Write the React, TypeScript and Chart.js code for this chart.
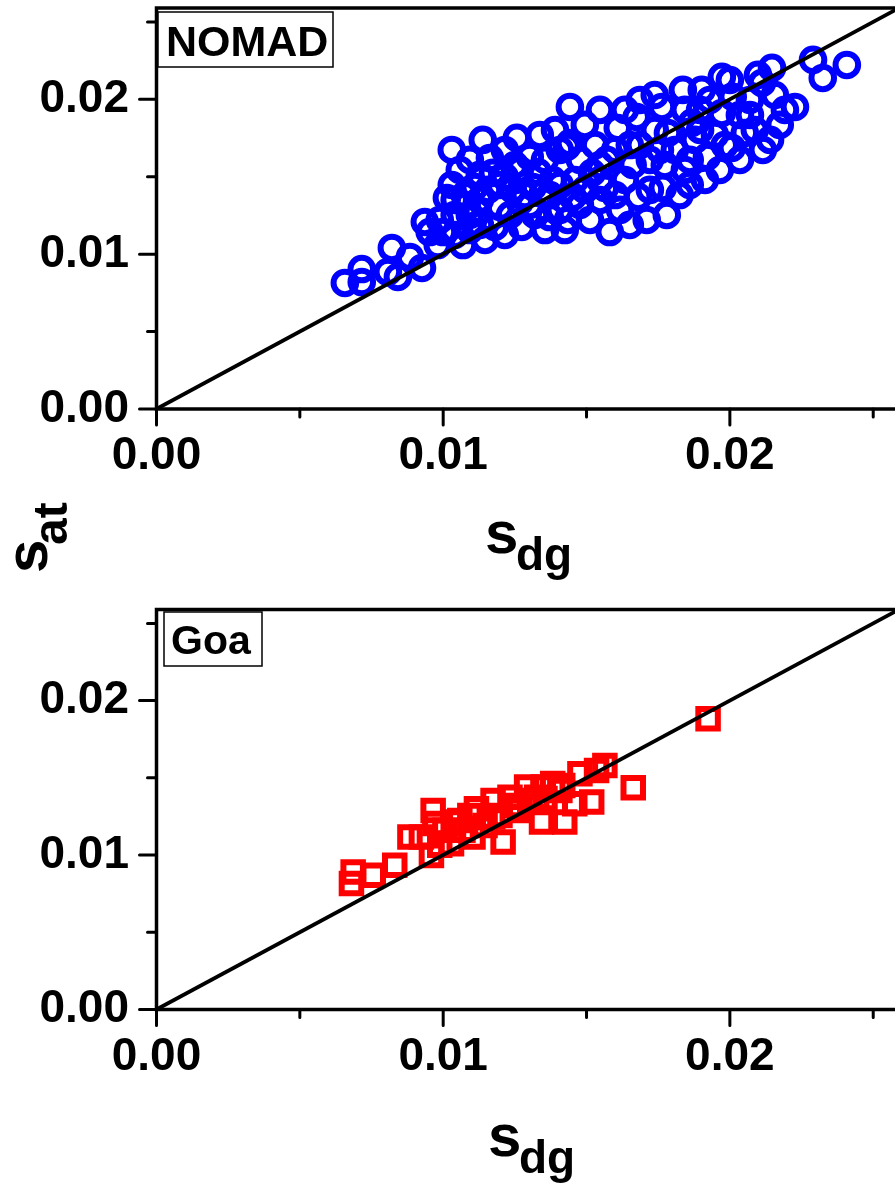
import React, { useEffect, useRef } from 'react';
import { Chart, registerables } from 'chart.js';

Chart.register(...registerables);

const FONT = "'Liberation Sans', Arial, Helvetica, sans-serif";

// ---------- data ----------
const nomadSdg = [
  0.00657, 0.00716, 0.00716, 0.00821, 0.00807, 0.00842, 0.00884, 0.00926, 0.00936, 0.00953,
  0.00999, 0.00981, 0.0103, 0.0103, 0.01013, 0.01058, 0.01069, 0.01082, 0.01121, 0.0111,
  0.01138, 0.01163, 0.01173, 0.01156, 0.01198, 0.0118, 0.01215, 0.01257, 0.01243, 0.01274,
  0.01267, 0.01302, 0.0133, 0.01337, 0.01348, 0.01313, 0.01372, 0.01431, 0.01442, 0.01435,
  0.01382, 0.01452, 0.01442, 0.01519, 0.01564, 0.01581, 0.01571, 0.01609, 0.01661, 0.01675,
  0.01686, 0.0168, 0.0171, 0.0178, 0.01766, 0.01763, 0.01784, 0.01843, 0.01867, 0.01836,
  0.01902, 0.0192, 0.01972, 0.01972, 0.02007, 0.0201, 0.02052, 0.02115, 0.02147, 0.02112,
  0.02174, 0.02227, 0.0229, 0.02324, 0.02408, 0.02098, 0.0104, 0.01093, 0.01146, 0.01233,
  0.01285, 0.0125, 0.01355, 0.01407, 0.0139, 0.01494, 0.0153, 0.01477, 0.01512, 0.01547,
  0.01617, 0.01634, 0.016, 0.01721, 0.01738, 0.01808, 0.01825, 0.01878, 0.01896, 0.01948,
  0.01965, 0.02035, 0.0207, 0.02087, 0.02157, 0.02192, 0.0214, 0.01738, 0.01634, 0.01547,
  0.01093, 0.01128, 0.01075, 0.01215, 0.0132, 0.01424, 0.01355, 0.01128, 0.00988, 0.0104,
  0.01651, 0.0186, 0.01913, 0.02035, 0.01547, 0.01477, 0.01407, 0.0146, 0.01721, 0.01773,
  0.0193, 0.01843, 0.02, 0.01686, 0.0104, 0.01093, 0.01198, 0.01267, 0.01302, 0.01372,
  0.01407, 0.01494, 0.01547, 0.016, 0.01651, 0.01756, 0.01896, 0.01982, 0.0207, 0.0186,
  0.01128, 0.01215,
];
const nomadSat = [
  0.00814, 0.0082, 0.00904, 0.0104, 0.00885, 0.00853, 0.00982, 0.00911, 0.01208, 0.01143,
  0.01143, 0.01059, 0.01673, 0.01447, 0.01363, 0.01544, 0.01059, 0.01318, 0.01273, 0.01434,
  0.01738, 0.01621, 0.01525, 0.01415, 0.01305, 0.01176, 0.01499, 0.01751, 0.01415, 0.01176,
  0.01337, 0.01628, 0.01531, 0.0177, 0.01395, 0.01434, 0.0124, 0.01693, 0.01951, 0.01221,
  0.01479, 0.0137, 0.01718, 0.01525, 0.01428, 0.01143, 0.01609, 0.01815, 0.01576, 0.01886,
  0.01705, 0.0137, 0.01221, 0.01253, 0.01428, 0.01951, 0.01783, 0.01544, 0.01848, 0.02061,
  0.02061, 0.01628, 0.01912, 0.02145, 0.01686, 0.02016, 0.01783, 0.01673, 0.02203, 0.02106,
  0.01835, 0.01951, 0.02255, 0.02138, 0.02222, 0.02158, 0.01253, 0.01156, 0.01092, 0.01253,
  0.01382, 0.01576, 0.01609, 0.01447, 0.01802, 0.01835, 0.01705, 0.01318, 0.01221, 0.0135,
  0.01286, 0.01479, 0.01673, 0.01609, 0.01802, 0.01673, 0.01382, 0.01738, 0.01932, 0.0177,
  0.01544, 0.01899, 0.01996, 0.01802, 0.02028, 0.01932, 0.01738, 0.02028, 0.01932, 0.01932,
  0.01609, 0.01512, 0.01382, 0.01673, 0.01253, 0.01156, 0.01156, 0.01189, 0.01221, 0.01124,
  0.01189, 0.01609, 0.01479, 0.01609, 0.01576, 0.01609, 0.01673, 0.01479, 0.01415, 0.01576,
  0.01996, 0.01932, 0.02125, 0.01996, 0.0135, 0.01253, 0.01447, 0.01544, 0.01318, 0.01382,
  0.01286, 0.01415, 0.01479, 0.01382, 0.01705, 0.01673, 0.01802, 0.01705, 0.01899, 0.01447,
  0.0135, 0.01124,
];
const goaSdg = [
  0.01924, 0.01663, 0.01564, 0.01535, 0.01477, 0.01518, 0.01459, 0.01424, 0.01417, 0.01382,
  0.01343, 0.01348, 0.01291, 0.01209, 0.01174, 0.01233, 0.01116, 0.01104, 0.01035, 0.01029,
  0.00965, 0.00971, 0.00959, 0.00924, 0.00884, 0.00831, 0.00756, 0.00686, 0.0068, 0.01069,
  0.01173, 0.01267, 0.01326, 0.01146, 0.01198, 0.0125, 0.01302, 0.01355, 0.01058, 0.01006,
  0.01093, 0.01407, 0.00988,
];
const goaSat = [
  0.01882, 0.01436, 0.0158, 0.01548, 0.01526, 0.01343, 0.01332, 0.01214, 0.01451, 0.01464,
  0.01214, 0.0144, 0.0144, 0.01084, 0.01354, 0.01375, 0.013, 0.01117, 0.01214, 0.01074,
  0.01289, 0.01205, 0.00998, 0.01117, 0.01117, 0.00934, 0.00869, 0.0089, 0.00816, 0.0116,
  0.01246, 0.01289, 0.01375, 0.01192, 0.01256, 0.01321, 0.01354, 0.01366, 0.01224, 0.0116,
  0.01256, 0.01418, 0.01063,
];
const diagonalX = [0, 0.026];
const diagonalY = [0, 0.026];
const majorTickValues = [0, 0.01, 0.02];
const X_MAX = 0.02576;
const Y_MAX = 0.0259;

type PanelCfg = {
  name: string;
  xs: number[];
  ys: number[];
  color: string;
  pointStyle: 'circle' | 'rect';
  radius: number;
  top: number;
  height: number;
  padTop: number;
  areaH: number;
  box: { x: number; y: number; w: number; h: number; tx: number; ty: number; size: number };
  titleX: number;
  titleDy: number;
  yTitle: boolean;
};

const panels: PanelCfg[] = [
  {
    name: 'NOMAD', xs: nomadSdg, ys: nomadSat, color: '#0000ff', pointStyle: 'circle', radius: 11.3,
    top: 0, height: 600, padTop: 8, areaH: 401,
    box: { x: 158, y: 12, w: 175, h: 55, tx: 166, ty: 56, size: 43 },
    titleX: 485, titleDy: 144, yTitle: true,
  },
  {
    name: 'Goa', xs: goaSdg, ys: goaSat, color: '#ff0000', pointStyle: 'rect', radius: 13.8,
    top: 600, height: 584, padTop: 9.5, areaH: 400,
    box: { x: 164, y: 12, w: 98, h: 54, tx: 171, ty: 54, size: 41 },
    titleX: 488, titleDy: 146.5, yTitle: false,
  },
];

const isMajor = (v: number) => majorTickValues.some((m) => Math.abs(m - v) < 1e-7);
const fmt = (v: number) => {
  const m = majorTickValues.find((t) => Math.abs(t - v) < 1e-7);
  return m === undefined ? '' : m.toFixed(2);
};

function drawSub(ctx: CanvasRenderingContext2D, x: number, y: number, main: string, sub: string, subDx: number) {
  ctx.font = `bold 60px ${FONT}`;
  ctx.textAlign = 'left';
  ctx.textBaseline = 'alphabetic';
  ctx.fillText(main, x, y);
  ctx.font = `bold 46px ${FONT}`;
  ctx.fillText(sub, x + subDx, y + 17);
}

function Panel({ cfg }: { cfg: PanelCfg }) {
  const ref = useRef<HTMLCanvasElement>(null);
  useEffect(() => {
    const canvas = ref.current!;
    const framePlugin = {
      id: 'frame',
      afterDraw(chart: any) {
        const { ctx, chartArea: a, scales } = chart;
        const xs = scales.x;
        const ys = scales.y;
        ctx.save();
        ctx.strokeStyle = '#000';
        ctx.lineWidth = 3.5;
        ctx.lineCap = 'butt';
        ctx.beginPath();
        ctx.moveTo(a.left, a.top);
        ctx.lineTo(a.left, a.bottom);
        ctx.moveTo(a.left - 1.75, a.bottom);
        ctx.lineTo(a.right + 2, a.bottom);
        ctx.moveTo(a.left - 1.75, a.top);
        ctx.lineTo(a.right + 2, a.top);
        ctx.stroke();
        ctx.lineWidth = 3;
        ctx.lineCap = 'round';
        ctx.beginPath();
        for (const t of ys.ticks) {
          const py = ys.getPixelForValue(t.value);
          ctx.moveTo(a.left, py);
          ctx.lineTo(a.left - (isMajor(t.value) ? 17 : 9), py);
        }
        for (const t of xs.ticks) {
          const px = xs.getPixelForValue(t.value);
          if (px > a.right) continue;
          ctx.moveTo(px, a.bottom);
          ctx.lineTo(px, a.bottom + (isMajor(t.value) ? 16 : 8));
        }
        ctx.stroke();
        // legend box
        const b = cfg.box;
        ctx.lineWidth = 1.5;
        ctx.lineCap = 'butt';
        ctx.fillStyle = '#fff';
        ctx.fillRect(b.x, b.y, b.w, b.h);
        ctx.strokeRect(b.x, b.y, b.w, b.h);
        ctx.fillStyle = '#000';
        ctx.font = `bold ${b.size}px ${FONT}`;
        ctx.textAlign = 'left';
        ctx.textBaseline = 'alphabetic';
        ctx.fillText(cfg.name, b.tx, b.ty);
        // x title
        drawSub(ctx, cfg.titleX, a.bottom + cfg.titleDy, 's', 'dg', 31);
        // y title
        if (cfg.yTitle) {
          ctx.save();
          ctx.translate(47, 572);
          ctx.rotate(-Math.PI / 2);
          ctx.font = `bold 60px ${FONT}`;
          ctx.fillText('s', -1, 0);
          ctx.font = `bold 48px ${FONT}`;
          ctx.fillText('at', 27, 20);
          ctx.restore();
        }
        ctx.restore();
      },
    };

    const tickFont = { family: FONT, size: 46, weight: 'bold' as const };
    const chart = new Chart(canvas, {
      type: 'scatter',
      data: {
        datasets: [
          {
            type: 'line',
            data: diagonalX.map((v, i) => ({ x: v, y: diagonalY[i] })),
            borderColor: '#000',
            borderWidth: 3.8,
            pointRadius: 0,
            fill: false,
            tension: 0,
            order: 0,
          } as any,
          {
            type: 'scatter',
            data: cfg.xs.map((v, i) => ({ x: v, y: cfg.ys[i] })),
            pointStyle: cfg.pointStyle,
            pointRadius: cfg.radius,
            pointBorderWidth: 6,
            pointBorderColor: cfg.color,
            borderColor: cfg.color,
            pointBackgroundColor: 'rgba(0,0,0,0)',
            backgroundColor: 'rgba(0,0,0,0)',
            order: 1,
          } as any,
        ],
      },
      options: {
        animation: false,
        responsive: false,
        maintainAspectRatio: false,
        events: [],
        layout: { autoPadding: false, padding: { top: cfg.padTop, left: 0, right: 0, bottom: 0 } },
        plugins: { legend: { display: false }, tooltip: { enabled: false }, title: { display: false } },
        scales: {
          x: {
            type: 'linear',
            position: 'bottom',
            min: 0,
            max: X_MAX,
            grid: { display: false, drawTicks: false },
            border: { display: false },
            ticks: {
              stepSize: 0.005,
              includeBounds: false,
              autoSkip: false,
              maxRotation: 0,
              padding: 20,
              color: '#000',
              font: tickFont,
              callback: (v: any) => fmt(Number(v)),
            },
            afterFit: (s: any) => {
              s.height = cfg.height - cfg.padTop - cfg.areaH;
              s.paddingLeft = 0;
              s.paddingRight = 0;
            },
          },
          y: {
            type: 'linear',
            position: 'left',
            min: 0,
            max: Y_MAX,
            grid: { display: false, drawTicks: false },
            border: { display: false },
            ticks: {
              stepSize: 0.005,
              includeBounds: false,
              autoSkip: false,
              padding: 27.5,
              color: '#000',
              font: tickFont,
              callback: (v: any) => fmt(Number(v)),
            },
            afterFit: (s: any) => {
              s.width = 156.5;
              s.paddingTop = 0;
              s.paddingBottom = 0;
            },
          },
        },
      } as any,
      plugins: [framePlugin],
    });
    return () => chart.destroy();
  }, [cfg]);
  return (
    <canvas
      ref={ref}
      width={895}
      height={cfg.height}
      style={{ display: 'block', position: 'absolute', left: 0, top: cfg.top, width: 895, height: cfg.height }}
    />
  );
}

export default function App() {
  return (
    <div style={{ position: 'absolute', left: 0, top: 0, width: 895, height: 1184, background: '#fff', overflow: 'hidden' }}>
      {panels.map((p) => (
        <Panel key={p.name} cfg={p} />
      ))}
    </div>
  );
}
